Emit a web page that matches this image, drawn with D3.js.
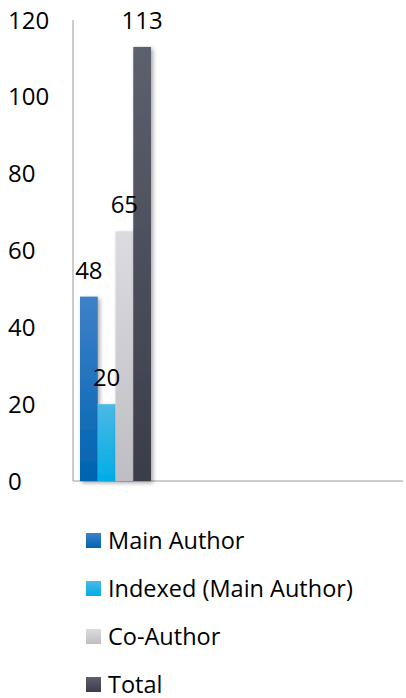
<!DOCTYPE html>
<html>
<head>
<meta charset="utf-8">
<script src="https://cdn.jsdelivr.net/npm/d3@7"></script>
<style>
  body { margin: 0; background: #fff; }
  svg text { font-family: "Open Sans", sans-serif; fill: #000; }
</style>
</head>
<body>
<div id="chart"></div>
<script>
// Data
const categories = ['Main Author', 'Indexed (Main Author)', 'Co-Author', 'Total']
const values = [48, 20, 65, 113]
const yTicks = [0, 20, 40, 60, 80, 100, 120]
const gradStops = [
	['#3f80c9', '#0064b0'],
	['#4bb9e6', '#00ade7'],
	['#dcdce0', '#bebdc3'],
	['#5d606d', '#3b3d49']
]

function draw() {
	let dimensions = {
		width: 406,
		height: 698,
		margin: { top: 20, bottom: 217, left: 73, right: 3 }
	}
	dimensions.ctrWidth = dimensions.width - dimensions.margin.left - dimensions.margin.right
	dimensions.ctrHeight = dimensions.height - dimensions.margin.top - dimensions.margin.bottom

	const svg = d3.select('#chart')
		.append('svg')
		.attr('width', dimensions.width)
		.attr('height', dimensions.height)

	const defs = svg.append('defs')
	gradStops.forEach((s, i) => {
		const g = defs.append('linearGradient')
			.attr('id', 'g' + i)
			.attr('x1', 0).attr('y1', 0).attr('x2', 0).attr('y2', 1)
		g.append('stop').attr('offset', '0%').attr('stop-color', s[0])
		g.append('stop').attr('offset', '100%').attr('stop-color', s[1])
	})
	const f = defs.append('filter').attr('id', 'shadow')
		.attr('x', '-20%').attr('y', '-5%').attr('width', '160%').attr('height', '115%')
	f.append('feDropShadow')
		.attr('dx', 2).attr('dy', 2).attr('stdDeviation', 2)
		.attr('flood-color', '#000').attr('flood-opacity', 0.35)

	const ctr = svg.append('g')
		.attr('transform', `translate(${dimensions.margin.left}, ${dimensions.margin.top})`)

	// Scales
	const yScale = d3.scaleLinear()
		.domain([0, 120])
		.range([dimensions.ctrHeight, 0])

	const xScale = d3.scaleBand()
		.domain(categories)
		.range([7, 7 + 71])
		.padding(0)

	// Axes
	ctr.append('line')
		.attr('x1', 0).attr('x2', 0)
		.attr('y1', yScale(120)).attr('y2', yScale(0))
		.attr('stroke', '#9a9a9a')
	ctr.append('line')
		.attr('x1', 0).attr('x2', dimensions.ctrWidth)
		.attr('y1', yScale(0)).attr('y2', yScale(0))
		.attr('stroke', '#9a9a9a')

	svg.append('g')
		.selectAll('text')
		.data(yTicks)
		.join('text')
		.attr('x', 8)
		.attr('y', d => dimensions.margin.top + yScale(d))
		.attr('dy', '0.36em')
		.attr('font-size', 24)
		.text(d => d)

	// Bars
	ctr.selectAll('rect.bar')
		.data(values)
		.join('rect')
		.attr('class', 'bar')
		.attr('x', (d, i) => xScale(categories[i]))
		.attr('y', d => yScale(d))
		.attr('width', xScale.bandwidth())
		.attr('height', d => yScale(0) - yScale(d))
		.attr('fill', (d, i) => `url(#g${i})`)
		.attr('filter', 'url(#shadow)')

	ctr.selectAll('text.val')
		.data(values)
		.join('text')
		.attr('class', 'val')
		.attr('x', (d, i) => xScale(categories[i]) + xScale.bandwidth() / 2)
		.attr('y', d => yScale(d) - 18)
		.attr('text-anchor', 'middle')
		.attr('font-size', 24)
		.text(d => d)

	// Legend
	const legend = svg.append('g')
		.attr('transform', 'translate(86, 541)')
	const item = legend.selectAll('g')
		.data(categories)
		.join('g')
		.attr('transform', (d, i) => `translate(0, ${i * 48})`)
	item.append('rect')
		.attr('x', 0).attr('y', -8)
		.attr('width', 15).attr('height', 15)
		.attr('fill', (d, i) => `url(#g${i})`)
	item.append('text')
		.attr('x', 22)
		.attr('y', 0)
		.attr('dy', '0.36em')
		.attr('font-size', 23.5)
		.text(d => d)
}

draw()
</script>
</body>
</html>
